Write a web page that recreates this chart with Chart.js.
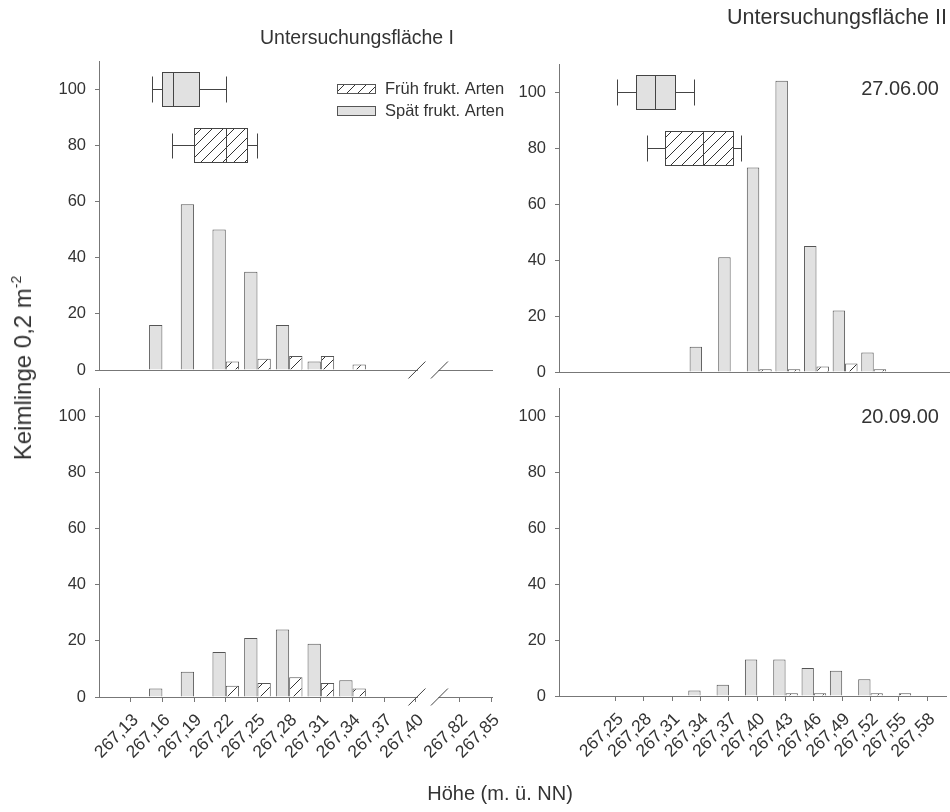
<!DOCTYPE html>
<html>
<head>
<meta charset="utf-8">
<script src="https://cdn.jsdelivr.net/npm/chart.js@4.4.0/dist/chart.umd.min.js"></script>
<style>
  body { margin: 0; background: #fff; }
  #wrap { position: relative; width: 950px; height: 812px; overflow: hidden;
          font-family: "Liberation Sans", Arial, Helvetica, sans-serif; color: #333; }
  #wrap canvas { position: absolute; left: 0; top: 0; }
  .lbl { position: absolute; white-space: nowrap; font-size: 20px; line-height: 20px; }
  .lbl sup { font-size: 14px; vertical-align: 10px; line-height: 0; }
</style>
</head>
<body>
<div id="wrap">
  <canvas id="c-i-jun" width="950" height="812"></canvas>
  <canvas id="c-i-sep" width="950" height="812"></canvas>
  <canvas id="c-ii-jun" width="950" height="812"></canvas>
  <canvas id="c-ii-sep" width="950" height="812"></canvas>

  <div class="lbl" style="left:260px; top:27px; font-size:19.5px;">Untersuchungsfläche I</div>
  <div class="lbl" style="right:3px; top:7px; font-size:21.5px;">Untersuchungsfläche II</div>
  <div class="lbl" id="date-jun" style="right:11px; top:78px;"></div>
  <div class="lbl" id="date-sep" style="right:11px; top:406px;"></div>
  <div class="lbl" style="left:23px; top:368px; font-size:24px; transform: translate(-50%, -50%) rotate(-90deg);">Keimlinge 0,2 m<sup>-2</sup></div>
  <div class="lbl" style="left:500px; top:793px; transform: translate(-50%, -50%);">Höhe (m. ü. NN)</div>
</div>

<script>
// --- data -------------------------------------------------------------
// height classes (m ü. NN)
const HEIGHTS_I = [267.13, 267.16, 267.19, 267.22, 267.25, 267.28, 267.31, 267.34, 267.37, 267.40, 267.82, 267.85];
const HEIGHTS_II = [267.25, 267.28, 267.31, 267.34, 267.37, 267.40, 267.43, 267.46, 267.49, 267.52, 267.55, 267.58];

// seedlings per 0.2 m², late / early fruiting species
const SPAET_I_JUN = [0, 16, 59, 50, 35, 16, 3, 0, 0, 0, 0, 0];
const FRUEH_I_JUN = [0, 0, 0, 3, 4, 5, 5, 2, 0, 0, 0, 0];
const SPAET_I_SEP = [0, 3, 9, 16, 21, 24, 19, 6, 0, 0, 0, 0];
const FRUEH_I_SEP = [0, 0, 0, 4, 5, 7, 5, 3, 0, 0, 0, 0];
const SPAET_II_JUN = [0, 0, 0, 9, 41, 73, 104, 45, 22, 7, 0, 0];
const FRUEH_II_JUN = [0, 0, 0, 0, 0, 1, 1, 2, 3, 1, 0, 0];
const SPAET_II_SEP = [0, 0, 0, 2, 4, 13, 13, 10, 9, 6, 0, 0];
const FRUEH_II_SEP = [0, 0, 0, 0, 0, 0, 1, 1, 0, 1, 1, 0];

// box plots of the height distribution: [min, q1, median, q3, max]
const BOX_SPAET_I = [267.150, 267.160, 267.170, 267.195, 267.220];
const BOX_FRUEH_I = [267.169, 267.190, 267.220, 267.240, 267.250];
const BOX_SPAET_II = [267.251, 267.271, 267.291, 267.312, 267.332];
const BOX_FRUEH_II = [267.282, 267.301, 267.341, 267.372, 267.381];
const BOX_ROWS = [100, 80]; // spät, früh

const Y_TICKS = [0, 20, 40, 60, 80, 100];
const SERIES = ["Früh frukt. Arten", "Spät frukt. Arten"];
const DATES = ["27.06.00", "20.09.00"];

// --- styles -----------------------------------------------------------
const TXT = "#333";
const AXIS = "#777";
const EDGE = "#555";
const GRAY = "#e1e1e1";
const FONT = "'Liberation Sans', Arial, Helvetica, sans-serif";

Chart.defaults.font.family = FONT;
Chart.defaults.color = TXT;

document.getElementById("date-jun").textContent = DATES[0];
document.getElementById("date-sep").textContent = DATES[1];

function makeHatch() {
  const s = 11;
  const c = document.createElement("canvas");
  c.width = s; c.height = s;
  const g = c.getContext("2d");
  g.fillStyle = "#fff";
  g.fillRect(0, 0, s, s);
  g.strokeStyle = "#333";
  g.lineWidth = 1;
  g.beginPath();
  g.moveTo(0, s); g.lineTo(s, 0);
  g.moveTo(-2, 2); g.lineTo(2, -2);
  g.moveTo(s - 2, s + 2); g.lineTo(s + 2, s - 2);
  g.stroke();
  return g.createPattern(c, "repeat");
}
const HATCH = makeHatch();

const fmt = h => h.toFixed(2).replace(".", ",");

// broken axis on Fläche I: everything above 267,40 is shifted left
const BREAK_FROM = 267.40, BREAK_TO = 267.82, BREAK_GAP = 0.0417;
const axisI = h => (h > BREAK_FROM + 0.01 ? h - (BREAK_TO - BREAK_FROM) + BREAK_GAP : h);
const axisII = h => h;

function crisp(v) { return Math.round(v) + 0.5; }

function drawBox(ctx, chart, toAxis, stats, row, fill) {
  const xs = chart.scales.x, ys = chart.scales.y;
  const px = stats.map(v => crisp(xs.getPixelForValue(toAxis(v))));
  const yMid = crisp(ys.getPixelForValue(row));
  const yTop = crisp(ys.getPixelForValue(row + 6));
  const yBot = crisp(ys.getPixelForValue(row - 6));
  const cTop = crisp(ys.getPixelForValue(row + 4.5));
  const cBot = crisp(ys.getPixelForValue(row - 4.5));
  ctx.save();
  ctx.strokeStyle = "#444";
  ctx.lineWidth = 1;
  ctx.beginPath();
  ctx.moveTo(px[0], yMid); ctx.lineTo(px[1], yMid);
  ctx.moveTo(px[3], yMid); ctx.lineTo(px[4], yMid);
  ctx.moveTo(px[0], cTop); ctx.lineTo(px[0], cBot);
  ctx.moveTo(px[4], cTop); ctx.lineTo(px[4], cBot);
  ctx.stroke();
  ctx.fillStyle = fill;
  ctx.fillRect(px[1], yTop, px[3] - px[1], yBot - yTop);
  ctx.strokeRect(px[1], yTop, px[3] - px[1], yBot - yTop);
  ctx.beginPath();
  ctx.moveTo(px[2], yTop); ctx.lineTo(px[2], yBot);
  ctx.stroke();
  ctx.restore();
}

function makePanel(p) {
  const Y_W = 50;
  const X_H = p.showTicks ? 90 : 0;
  const tickVals = p.heights.map(p.toAxis);
  const pts = vals => p.heights.map((h, i) => ({ x: p.toAxis(h), y: vals[i] }));

  const extras = {
    id: "extras-" + p.canvas,
    afterDatasetsDraw(chart) {
      const ctx = chart.ctx;
      const area = chart.chartArea;
      if (p.boxes) {
        drawBox(ctx, chart, p.toAxis, p.boxes[0], BOX_ROWS[0], GRAY);
        drawBox(ctx, chart, p.toAxis, p.boxes[1], BOX_ROWS[1], HATCH);
      }
      if (p.breakAt) {
        const y = chart.scales.y.getPixelForValue(0);
        const x1 = chart.scales.x.getPixelForValue(p.breakAt) + 1;
        const x2 = x1 + 22.5;
        ctx.save();
        ctx.fillStyle = "#fff";
        ctx.fillRect(x1 + 1, y - 2, x2 - x1 - 2, 4);
        ctx.strokeStyle = "#444";
        ctx.lineWidth = 1;
        ctx.beginPath();
        [x1, x2].forEach(x => { ctx.moveTo(x - 8.5, y + 8.5); ctx.lineTo(x + 8.5, y - 8.5); });
        ctx.stroke();
        ctx.restore();
      }
      if (p.legend) {
        const lx = area.right - 155, ly = area.top + 23;
        ctx.save();
        ctx.strokeStyle = "#555";
        ctx.lineWidth = 1;
        [[HATCH, SERIES[0]], [GRAY, SERIES[1]]].forEach(([fill, text], i) => {
          const y = ly + i * 22;
          ctx.fillStyle = fill;
          ctx.fillRect(lx + 0.5, y + 0.5, 38, 9);
          ctx.strokeRect(lx + 0.5, y + 0.5, 38, 9);
          ctx.fillStyle = TXT;
          ctx.font = "16.5px " + FONT;
          ctx.textBaseline = "middle";
          ctx.fillText(text, lx + 48, y + 5);
        });
        ctx.restore();
      }
    }
  };

  return new Chart(document.getElementById(p.canvas), {
    type: "bar",
    data: {
      datasets: [
        { label: SERIES[1], data: pts(p.spaet), backgroundColor: GRAY, borderColor: EDGE, borderWidth: 1 },
        { label: SERIES[0], data: pts(p.frueh), backgroundColor: HATCH, borderColor: EDGE, borderWidth: 1 }
      ]
    },
    options: {
      responsive: false,
      animation: false,
      events: [],
      layout: {
        padding: {
          left: p.area.left - Y_W,
          top: p.area.top,
          right: 950 - p.area.right,
          bottom: 812 - p.area.bottom - X_H
        }
      },
      datasets: { bar: { barPercentage: 1, categoryPercentage: p.catPct, grouped: true } },
      plugins: { legend: { display: false }, tooltip: { enabled: false } },
      scales: {
        x: {
          type: "linear",
          offset: false,
          min: p.xMin,
          max: p.xMax,
          afterBuildTicks: s => { s.ticks = tickVals.map(v => ({ value: v })); },
          afterFit: s => { s.height = X_H; },
          border: { display: true, color: AXIS, width: 1 },
          grid: { display: p.showTicks, offset: false, drawOnChartArea: false, drawTicks: true, tickLength: 5, color: AXIS },
          ticks: {
            display: p.showTicks,
            autoSkip: false,
            minRotation: 45,
            maxRotation: 45,
            padding: 8,
            labelOffset: 5,
            color: TXT,
            font: { size: 17.5 },
            callback: (v, i) => fmt(p.heights[i])
          }
        },
        y: {
          min: 0,
          max: 110,
          afterBuildTicks: s => { s.ticks = Y_TICKS.map(v => ({ value: v })); },
          afterFit: s => { s.width = Y_W; },
          border: { display: true, color: AXIS, width: 1 },
          grid: { drawOnChartArea: false, drawTicks: true, tickLength: 4, color: AXIS },
          ticks: { padding: 9, color: TXT, font: { size: 16.5 } }
        }
      }
    },
    plugins: [extras]
  });
}

// Fläche I
makePanel({
  canvas: "c-i-jun", heights: HEIGHTS_I, spaet: SPAET_I_JUN, frueh: FRUEH_I_JUN,
  area: { left: 99, top: 61, right: 492, bottom: 370 },
  xMin: 267.10, xMax: 267.472, toAxis: axisI, showTicks: false, catPct: 0.84,
  boxes: [BOX_SPAET_I, BOX_FRUEH_I], legend: true, breakAt: BREAK_FROM
});
makePanel({
  canvas: "c-i-sep", heights: HEIGHTS_I, spaet: SPAET_I_SEP, frueh: FRUEH_I_SEP,
  area: { left: 99, top: 388, right: 492, bottom: 697 },
  xMin: 267.10, xMax: 267.472, toAxis: axisI, showTicks: true, catPct: 0.84,
  breakAt: BREAK_FROM
});

// Fläche II
makePanel({
  canvas: "c-ii-jun", heights: HEIGHTS_II, spaet: SPAET_II_JUN, frueh: FRUEH_II_JUN,
  area: { left: 559, top: 64, right: 950, bottom: 372 },
  xMin: 267.19, xMax: 267.60, toAxis: axisII, showTicks: false, catPct: 0.87,
  boxes: [BOX_SPAET_II, BOX_FRUEH_II]
});
makePanel({
  canvas: "c-ii-sep", heights: HEIGHTS_II, spaet: SPAET_II_SEP, frueh: FRUEH_II_SEP,
  area: { left: 559, top: 388, right: 950, bottom: 696 },
  xMin: 267.19, xMax: 267.60, toAxis: axisII, showTicks: true, catPct: 0.87
});
</script>
</body>
</html>
